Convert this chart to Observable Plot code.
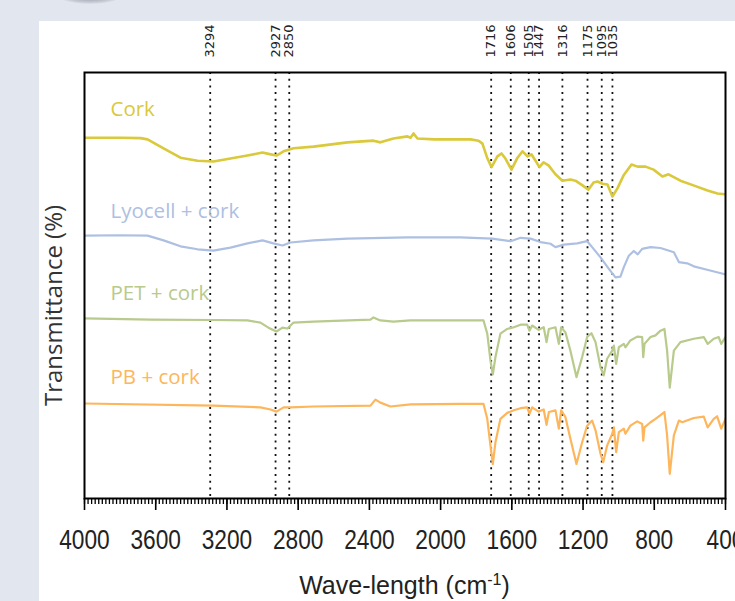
<!DOCTYPE html>
<html>
<head>
<meta charset="utf-8">
<script src="https://cdn.jsdelivr.net/npm/d3@7"></script>
<script src="https://cdn.jsdelivr.net/npm/@observablehq/plot@0.6"></script>
<style>
  html, body { margin: 0; padding: 0; }
  body { width: 735px; height: 601px; overflow: hidden; background: #e1e6ef; position: relative; }
  #panel { position: absolute; left: 39px; top: 21px; width: 696px; height: 580px; background: #fff; }
  #shadow { position: absolute; left: 58px; top: -14px; width: 64px; height: 18px; border-radius: 50%;
            background: radial-gradient(ellipse at center, rgba(110,115,125,0.85) 0%, rgba(150,155,165,0.4) 55%, rgba(225,230,239,0) 75%); }
  #chart { position: absolute; left: 0; top: 0; }
  #chart svg { overflow: visible; background: transparent; }
</style>
</head>
<body>
<div id="shadow"></div>
<div id="panel"></div>
<div id="chart"></div>
<script>
// ---- data (wavenumber cm-1, transmittance %, offset per sample) ----
const cork = [[4000,84.7],[3910,84.7],[3798,84.7],[3685,84.6],[3646,84.3],[3556,82.2],[3461,80.0],[3365,79.3],[3276,79.1],[3180,79.8],[3085,80.5],[3000,81.2],[2967,80.9],[2922,80.5],[2882,81.5],[2826,82.2],[2714,82.6],[2523,83.6],[2377,84.0],[2338,83.6],[2265,84.5],[2186,85.0],[2169,84.7],[2152,85.7],[2130,84.5],[2034,84.3],[1939,84.3],[1832,84.3],[1787,84.0],[1765,83.3],[1737,79.8],[1714,77.8],[1681,80.3],[1658,81.0],[1636,79.8],[1602,77.2],[1568,80.0],[1540,81.5],[1512,80.3],[1490,80.8],[1467,79.3],[1445,77.8],[1422,78.9],[1394,78.2],[1355,76.1],[1316,74.6],[1271,74.9],[1243,74.6],[1203,73.5],[1170,72.5],[1141,74.2],[1119,74.4],[1091,73.9],[1063,73.7],[1035,70.9],[1007,72.8],[973,75.8],[928,78.4],[894,77.9],[849,77.9],[804,77.2],[754,75.6],[720,76.1],[653,74.6],[580,73.5],[501,72.3],[445,71.6],[400,71.4]];
const lyocell = [[4000,61.7],[3800,61.8],[3646,61.7],[3556,60.6],[3461,59.2],[3365,58.5],[3276,58.2],[3180,58.9],[3085,59.9],[3000,60.6],[2939,59.9],[2888,59.4],[2843,60.1],[2714,60.6],[2523,61.0],[2186,61.3],[1888,61.3],[1710,61.0],[1607,60.4],[1551,61.2],[1495,61.0],[1439,60.2],[1383,59.8],[1355,59.0],[1308,59.6],[1233,59.9],[1177,60.4],[1149,59.0],[1102,56.6],[1055,53.9],[1018,51.9],[990,52.1],[971,54.3],[943,57.0],[915,58.1],[893,57.3],[868,58.6],[821,59.0],[765,58.8],[690,57.8],[662,55.5],[615,55.2],[578,54.5],[503,53.7],[409,52.7],[400,52.6]];
const pet = [[4000,42.3],[3629,42.0],[3276,41.9],[3085,41.8],[3012,41.3],[2967,40.1],[2922,39.2],[2888,40.1],[2860,39.9],[2826,41.3],[2714,41.5],[2394,42.0],[2377,42.5],[2355,42.1],[2338,41.8],[2265,41.5],[2169,41.8],[1888,41.8],[1759,41.8],[1738,38.7],[1720,32.4],[1707,29.1],[1692,33.2],[1664,38.7],[1626,39.8],[1589,40.2],[1551,40.8],[1514,40.8],[1501,39.4],[1486,40.6],[1449,39.6],[1421,40.2],[1405,36.7],[1392,39.8],[1355,40.2],[1336,36.3],[1323,40.2],[1299,39.0],[1271,34.7],[1237,28.5],[1205,33.2],[1177,37.9],[1153,38.8],[1130,36.7],[1102,30.8],[1084,28.9],[1065,32.8],[1036,34.7],[1027,35.9],[1014,31.6],[999,35.5],[971,36.3],[962,35.5],[934,37.1],[896,38.0],[868,37.9],[862,33.2],[855,36.3],[821,37.9],[793,38.3],[765,39.4],[743,39.8],[728,34.7],[713,26.0],[690,34.7],[653,36.7],[578,37.5],[522,37.9],[500,36.3],[466,37.5],[438,37.9],[424,36.3],[400,37.9]];
const pb = [[4000,22.3],[3276,21.8],[3012,21.4],[2955,20.9],[2922,20.4],[2882,21.4],[2843,21.4],[2714,21.6],[2394,21.8],[2366,23.2],[2338,22.5],[2282,21.6],[2169,22.1],[1888,22.2],[1759,22.2],[1738,18.7],[1720,12.4],[1707,8.1],[1692,13.2],[1664,18.7],[1626,20.1],[1589,20.7],[1551,21.2],[1514,21.4],[1501,19.9],[1486,21.4],[1449,20.4],[1421,20.9],[1405,17.3],[1392,20.3],[1355,20.7],[1336,16.4],[1323,20.7],[1299,19.1],[1271,14.0],[1237,8.1],[1205,13.2],[1177,17.1],[1149,18.3],[1130,16.0],[1102,10.5],[1087,8.5],[1065,12.4],[1036,15.2],[1027,16.7],[1014,10.9],[999,15.6],[971,16.4],[962,15.2],[934,17.1],[896,18.1],[868,17.5],[862,13.6],[855,16.7],[821,17.9],[793,18.7],[765,19.6],[743,20.3],[728,14.8],[713,5.8],[690,14.8],[662,18.3],[643,17.9],[578,18.9],[522,19.2],[500,16.7],[466,18.7],[447,19.3],[424,16.4],[400,18.7]];

const seriesNames = ["Cork", "Lyocell + cork", "PET + cork", "PB + cork"];
const seriesColors = ["#d9c93b", "#adc0e2", "#b8ca8c", "#fdb65c"];
const labelY = [91.3, 67.4, 48.1, 28.4];   // label heights on transmittance scale
const labelX = 3854;                       // label start wavenumber
const peaks = [3294, 2927, 2850, 1716, 1606, 1505, 1447, 1316, 1175, 1095, 1035];
const majorTicks = [4000, 3600, 3200, 2800, 2400, 2000, 1600, 1200, 800, 400];
const minorTicks = d3.range(400, 4001, 20);

const seriesData = [cork, lyocell, pet, pb];
const labels = seriesNames.map((name, i) => ({name, y: labelY[i], color: seriesColors[i]}));

const numFont = "'Liberation Sans', Arial, sans-serif";

const lineMarks = seriesData.map((s, i) =>
  Plot.line(s, {x: d => d[0], y: d => d[1], stroke: seriesColors[i], strokeWidth: i === 0 ? 2.6 : 2.2, clip: true})
);

const plot = Plot.plot({
  width: 735,
  height: 601,
  marginLeft: 84,
  marginRight: 10,
  marginTop: 72,
  marginBottom: 103,
  x: {domain: [4000, 400], axis: null},
  y: {domain: [0, 100], axis: null},
  marks: [
    Plot.ruleX(peaks, {x: d => d, stroke: "#111", strokeWidth: 1.8, strokeDasharray: "2,4.7"}),
    ...lineMarks,
    Plot.frame({stroke: "#000", strokeWidth: 2}),
    Plot.axisX({ticks: minorTicks, tickSize: 6, text: null, strokeWidth: 1.3, label: null}),
    Plot.axisX({ticks: majorTicks, tickSize: 12, tickPadding: 19, strokeWidth: 1.6, label: null,
                tickFormat: d => String(d), fontSize: 27, fontFamily: numFont, fill: "#222"}),
    Plot.text(peaks, {x: d => d, text: d => String(d), frameAnchor: "top", dy: -15, rotate: -90,
                      textAnchor: "start", lineAnchor: "middle", fontSize: 13, fontFamily: "DejaVu Sans", fill: "#222"}),
    Plot.text(labels, {x: labelX, y: "y", text: "name", fill: "color", textAnchor: "start",
                       fontSize: 20.5, fontFamily: "'Open Sans', sans-serif"}),
    Plot.text(["Transmittance (%)"], {frameAnchor: "left", dx: -30, dy: 20, rotate: -90,
                       textAnchor: "middle", lineAnchor: "middle",
                       fontSize: 24, fontFamily: "'Open Sans', sans-serif", fill: "#333"})
  ]
});

document.getElementById("chart").appendChild(plot);

const svg = d3.select(plot);
const peakStrings = new Set(peaks.map(String));
const tickStrings = new Set(majorTicks.map(String));
svg.selectAll("text").each(function() {
  const s = this.textContent;
  if (tickStrings.has(s)) {
    // narrow (condensed) look of the axis numbers, as in the original figure
    const w = this.getComputedTextLength();
    this.setAttribute("textLength", (w * 0.84).toFixed(1));
    this.setAttribute("lengthAdjust", "spacingAndGlyphs");
  } else if (peakStrings.has(s)) {
    this.setAttribute("font-size", "13");
    this.setAttribute("textLength", "33");
    this.setAttribute("lengthAdjust", "spacingAndGlyphs");
  }
});

// x-axis title with superscript, centred under the frame
const xMid = (84 + (735 - 10)) / 2;
const title = svg.append("text")
  .attr("x", xMid).attr("y", 594)
  .attr("text-anchor", "middle")
  .attr("font-family", numFont).attr("font-size", 25).attr("fill", "#222");
title.append("tspan").text("Wave-length (cm");
title.append("tspan").attr("dy", -9).attr("font-size", 16).text("-1");
title.append("tspan").attr("dy", 9).text(")");
</script>
</body>
</html>
